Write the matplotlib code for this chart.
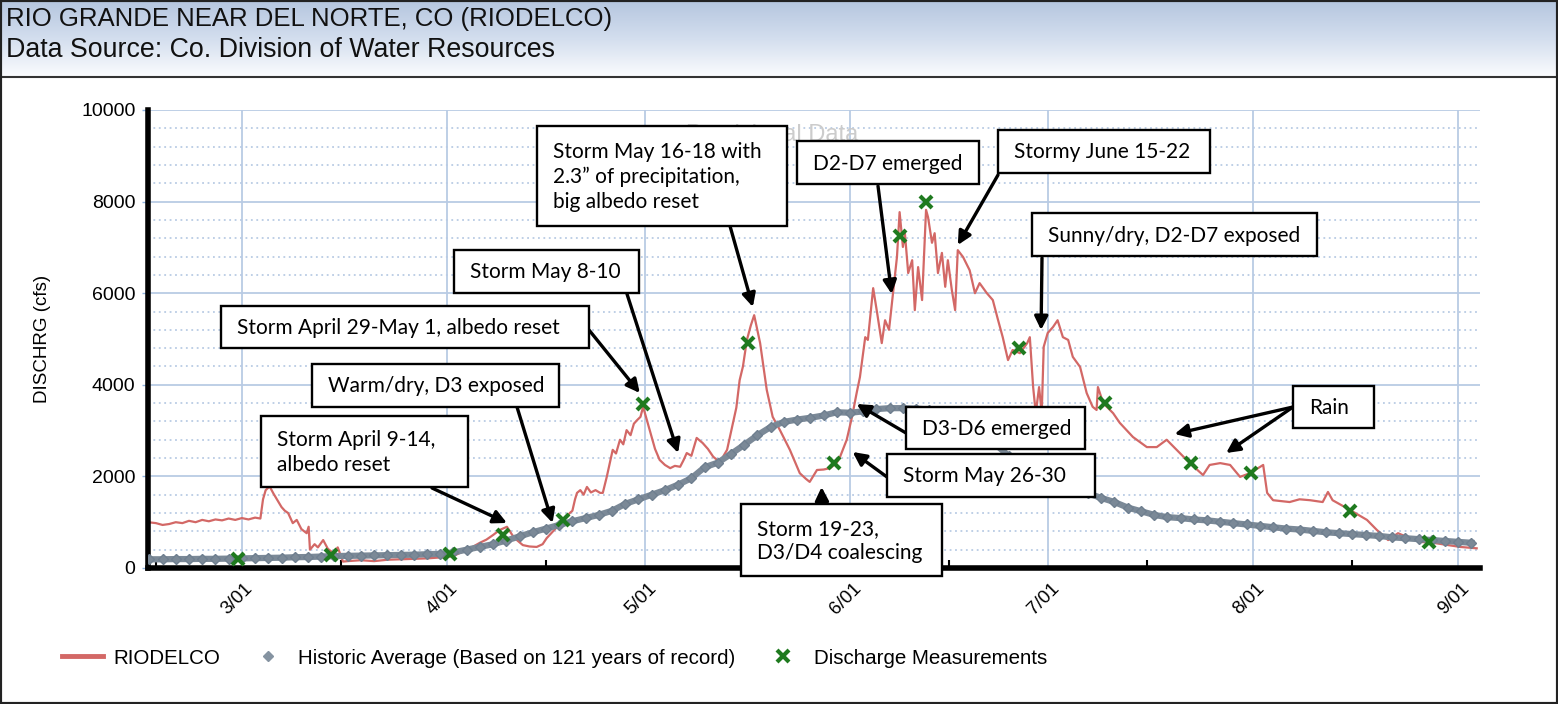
import numpy as np
import pandas as pd
import matplotlib
matplotlib.use('Agg')
import matplotlib.pyplot as plt
import matplotlib.dates as mdates
import matplotlib.transforms as mtransforms
from matplotlib.patches import Rectangle
from matplotlib.lines import Line2D
from matplotlib.colors import LinearSegmentedColormap
from matplotlib.ticker import MultipleLocator

plt.rcParams['font.family'] = ['Liberation Sans', 'DejaVu Sans']

# ---- data (days counted from March 1, 2019) ----
base = pd.Timestamp('2019-03-01')

# RIODELCO gauge
riodelco_day = [-14.2, -13, -12, -11, -10, -9, -8, -7, -6, -5, -4, -3, -2, -1, 0, 1, 2, 2.8,
                3.2, 3.6, 4.2, 4.8, 5.5, 6, 6.5, 7, 7.7, 8.3, 9, 9.8, 10.1, 10.3, 11, 11.5,
                12.3, 13, 13.8, 14.5, 15.3, 16, 18, 20, 22, 24, 26, 28, 30, 31, 32, 33,
                34.9, 36, 37, 38, 39, 40.1, 41, 41.6, 42.5, 43.5, 44.6, 45.5, 46.1, 47.7,
                48.5, 49.6, 50, 50.4, 50.7, 51.2, 51.7, 52.2, 52.8, 53.5, 54.2, 54.6, 55.2,
                56.1, 56.6, 57.2, 57.7, 58.2, 58.8, 59.3, 59.8, 60.3, 60.7, 61.7, 62.5,
                63.2, 64, 64.8, 65.5, 66.3, 66.8, 67.3, 68, 68.8, 69.7, 70.5, 71.3, 72.3,
                73.4, 74.3, 74.8, 75.3, 75.8, 76.4, 77, 77.5, 78.4, 79.4, 80.3, 81.4, 82.9,
                84.4, 85.3, 85.9, 87, 88, 89, 90, 90.5, 91.5, 92.3,
                93.0, 93.5, 94.3, 94.7, 95.5, 96.1, 96.8, 97.3, 97.9, 98.5, 99.1, 99.5,
                100.0, 100.3, 100.8, 101.4, 101.8, 102.3, 102.9, 103.5, 103.8, 104.4,
                104.8, 105.3, 105.9, 106.4, 106.8, 107.4, 107.9, 108.3, 109.1, 110.1,
                110.9, 111.6, 112.7, 113.6, 114.4, 115.1, 115.9, 116.6, 117.7, 118.8,
                119.2, 119.7, 120.1, 120.6, 121.0, 121.3, 121.9, 122.7, 123.4, 124.2,
                125.0, 125.7, 126.8, 127.8, 128.7,
                129.3, 129.5, 130.3, 131.8, 132.8, 134.8, 136.9, 138.4,
                139.9, 141.9, 143.4, 145.4, 146.4, 148, 149.5, 151, 152.5, 154.5, 155.1,
                156, 158.5, 160, 161.6, 163.5, 164.3, 165, 167.6, 170.2, 171.7, 173.4,
                174.9, 176.2, 178.2, 180.2, 184.3, 186.8]
riodelco_cfs = [1000, 980, 940, 960, 1000, 980, 1030, 1000, 1050, 1020, 1060, 1040, 1080, 1050,
                1090, 1060, 1100, 1080, 1500, 1700, 1780, 1620, 1450, 1330, 1250, 1200, 980,
                1050, 850, 760, 900, 400, 520, 450, 610, 420, 330, 450, 140, 150, 170, 150,
                180, 190, 200, 210, 230, 240, 260, 330, 460, 550, 620, 720, 830, 900, 700,
                610, 500, 470, 460, 520, 650, 900, 1000, 1200, 1250, 1500, 1640, 1700, 1600,
                1770, 1650, 1700, 1640, 1640, 1990, 2580, 2500, 2800, 2700, 3010, 2900, 3150,
                3230, 3300, 3520, 3010, 2600, 2360, 2250, 2180, 2230, 2210, 2350, 2510, 2450,
                2840, 2730, 2600, 2430, 2310, 2580, 3170, 3500, 4100, 4400, 4980, 5300, 5520,
                4910, 3890, 3300, 3010, 2580, 2070, 1950, 1880, 2140, 2150, 2180, 2300, 2430,
                2800, 3300,
                3820, 4170, 5040, 4980, 6110, 5570, 4910, 5410, 5200, 6000, 6790, 7770,
                7010, 7310, 6440, 6720, 5630, 6570, 5850, 7820, 7660, 7100,
                7310, 6440, 6880, 6140, 6720, 6070, 5630, 6940, 6790, 6500,
                6000, 6220, 6000, 5850, 5410, 5040, 4540, 4760, 4690, 4910,
                5040, 3950, 3380, 3950, 3380, 4830, 5130, 5260, 5410, 5040,
                4980, 4610, 4390, 3820, 3520,
                3450, 3950, 3600, 3380, 3170, 2860, 2640, 2640, 2800, 2510, 2290,
                2030, 2250, 2290, 2250, 1990, 2070, 2250, 1640, 1480, 1440, 1500, 1480, 1440,
                1660, 1480, 1270, 1050, 830, 610, 760, 680, 570, 550, 460, 430]

# Historic average (121 years of record)
hist_day = list(range(-14, 188, 2))
hist_cfs = [190, 190, 195, 195, 200, 200, 205, 210, 215, 220, 225, 235, 240, 250, 260, 265,
            270, 275, 280, 285, 290, 300, 310, 340, 400, 460, 520, 600, 690, 780, 860, 940,
            1020, 1090, 1160, 1250, 1400, 1500, 1600, 1700, 1820, 1960, 2200, 2300, 2490,
            2690, 2900, 3080, 3190, 3240, 3280, 3330, 3400, 3390, 3420, 3470, 3490, 3490,
            3480, 3460, 3420, 3350, 3200, 2980, 2700, 2450, 2250, 2080, 1950, 1830, 1730,
            1630, 1530, 1440, 1320, 1240, 1160, 1110, 1090, 1060, 1040, 1010, 980, 950, 920,
            890, 860, 840, 810, 780, 760, 740, 720, 700, 670, 650, 630, 610, 590, 570, 550]

# Discharge measurements
meas_day = [-0.6, 13.5, 31.5, 39.5, 48.6, 60.7, 76.6, 89.6, 99.5, 103.5, 117.5, 130.6,
            143.6, 152.6, 167.6, 179.6]
meas_cfs = [200, 280, 300, 720, 1050, 3580, 4910, 2290, 7250, 7990, 4800, 3600, 2290,
            2070, 1240, 570]

# callouts: text, box (left, top, right, bottom in px), arrows (tail px, tip day, tip cfs)
callouts = [
    ("Storm April 9-14,\nalbedo reset", (261, 416, 468, 487), [((432, 488), 40.1, 983)]),
    ("Warm/dry, D3 exposed", (312, 364, 559, 407), [((517, 407), 47.0, 983)]),
    ("Storm April 29-May 1, albedo reset", (221, 306, 589, 348), [((589, 330), 60.2, 3821)]),
    ("Storm May 8-10", (454, 250, 639, 293), [((627, 294), 66.0, 2511)]),
    ("Storm May 16-18 with\n2.3\u201d of precipitation,\nbig albedo reset", (537, 126, 787, 226),
     [((730, 226), 77.3, 5699)]),
    ("D2-D7 emerged", (797, 141, 979, 184), [((878, 186), 98.3, 5983)]),
    ("Stormy June 15-22", (998, 130, 1210, 173), [((998, 175), 108.3, 7052)]),
    ("Sunny/dry, D2-D7 exposed", (1032, 213, 1317, 256), [((1042, 258), 120.9, 5197)]),
    ("D3-D6 emerged", (906, 407, 1085, 449), [((906, 433), 93.0, 3581)]),
    ("Storm May 26-30", (887, 454, 1095, 497), [((887, 477), 92.4, 2533)]),
    ("Storm 19-23,\nD3/D4 coalescing", (741, 504, 942, 576), [((822, 504), 87.7, 1769)]),
    ("Rain", (1293, 386, 1374, 428), [((1293, 407), 141.1, 2926), ((1293, 407), 148.9, 2511)]),
]

W, H = 1558, 704


def fxy(x, y):
    # pixel (from top-left) -> figure fraction
    return x / W, 1 - y / H


def to_date(days):
    return base + pd.to_timedelta(np.asarray(days, dtype=float), unit='D')


fig = plt.figure(figsize=(W / 100, H / 100), dpi=100)
fig.patch.set_facecolor('white')

# header band with gradient
hax = fig.add_axes([0, 1 - 77 / H, 1, 77 / H])
grad = np.linspace(0, 1, 100).reshape(-1, 1)
cmap = LinearSegmentedColormap.from_list('hdr', ['#b5c6df', '#d3deee', '#fbfcfe'])
hax.imshow(grad, aspect='auto', cmap=cmap, extent=[0, 1, 0, 1])
hax.set_axis_off()
fig.text(*fxy(6, 19), 'RIO GRANDE NEAR DEL NORTE, CO (RIODELCO)', fontsize=18.5,
         va='center', ha='left', color='#111111')
fig.text(*fxy(6, 50), 'Data Source: Co. Division of Water Resources', fontsize=19.3,
         va='center', ha='left', color='#111111')
fig.add_artist(Line2D([0, 1], [1 - 77 / H] * 2, transform=fig.transFigure,
                      color='#333333', lw=1.5))

# main axes
ax = fig.add_axes([148 / W, 1 - 568 / H, (1480 - 148) / W, (568 - 110) / H])
ax.set_axisbelow(True)

ax.plot(to_date(riodelco_day), riodelco_cfs, color='#d36866', lw=1.6, zorder=2)
ax.plot(to_date(hist_day), hist_cfs, color='#7b8997', lw=4.5, marker='D', ms=5.5,
        mec='#6f7f8f', mfc='#7b8997', zorder=3)
ax.plot(to_date(meas_day), meas_cfs, ls='none', marker='x', ms=8, mew=3,
        color='#1f7a1f', zorder=4)

ax.set_xlim(to_date([-14.2])[0], to_date([187.3])[0])
ax.set_ylim(0, 10000)

ax.xaxis.set_major_locator(mdates.MonthLocator())
ax.xaxis.set_major_formatter(mdates.DateFormatter('%-m/%d'))
ax.xaxis.set_minor_locator(mdates.MonthLocator(bymonthday=16))
ax.yaxis.set_major_locator(MultipleLocator(2000))
ax.yaxis.set_minor_locator(MultipleLocator(400))

grid_c = '#b9cbe4'
ax.grid(which='major', color=grid_c, lw=1.3)
ax.grid(which='minor', axis='y', color=grid_c, lw=1.3, ls=(0, (1, 2)))

for s in ['top', 'right']:
    ax.spines[s].set_visible(False)
for s in ['left', 'bottom']:
    ax.spines[s].set_linewidth(4)
    ax.spines[s].set_color('black')

ax.tick_params(axis='x', which='major', length=0, pad=13, labelsize=13.5)
ax.tick_params(axis='x', which='minor', direction='in', length=6, width=1.5, color='black')
ax.tick_params(axis='y', which='major', length=4, width=1, color='#8fb3e0', pad=5, labelsize=14)
ax.tick_params(axis='y', which='minor', length=0)
shift = mtransforms.ScaledTranslation(6 / 72, 0, fig.dpi_scale_trans)
for lab in ax.get_xticklabels():
    lab.set_rotation(45)
    lab.set_ha('right')
    lab.set_va('center')
    lab.set_rotation_mode('anchor')
    lab.set_transform(lab.get_transform() + shift)

ax.set_ylabel('DISCHRG (cfs)', fontsize=13.5, labelpad=22)

# faint watermark mostly hidden behind callouts
fig.text(*fxy(858, 135), 'Provisional Data', fontsize=17, color='#cccccc', ha='right',
         va='center', zorder=2)

# callout boxes and arrows
for text, (x0, y0, x1, y1), arrows in callouts:
    fx0, fy1 = fxy(x0, y1)
    fig.add_artist(Rectangle((fx0, fy1), (x1 - x0) / W, (y1 - y0) / H,
                             transform=fig.transFigure, facecolor='white',
                             edgecolor='black', lw=1.7, zorder=5))
    fig.text(*fxy(x0 + 16, (y0 + y1) / 2 + 1), text, fontsize=15, family=['Lato', 'DejaVu Sans'],
             va='center', ha='left', linespacing=1.27, color='black', zorder=6)
    for tail, tday, tcfs in arrows:
        ax.annotate('', xy=(mdates.date2num(to_date([tday])[0]), tcfs), xycoords='data',
                    xytext=fxy(*tail), textcoords='figure fraction',
                    arrowprops=dict(arrowstyle='-|>', color='black', lw=2.4,
                                    mutation_scale=20, shrinkA=0, shrinkB=0))

# legend
handles = [Line2D([], [], color='#d36866', lw=3.5),
           Line2D([], [], ls='none', marker='D', ms=5, color='#8593a1'),
           Line2D([], [], ls='none', marker='x', ms=8, mew=3, color='#1f7a1f')]
labels = ['RIODELCO', 'Historic Average (Based on 121 years of record)',
          'Discharge Measurements']
fig.legend(handles, labels, loc='center left', bbox_to_anchor=fxy(62, 658), ncol=3,
           frameon=False, fontsize=14.8, handlelength=2.0, handletextpad=0.5,
           columnspacing=1.3, borderpad=0, borderaxespad=0)

# outer frame
fig.add_artist(Rectangle((0, 0), 1, 1, transform=fig.transFigure, fill=False,
                         edgecolor='#222222', lw=3, zorder=10))

fig.savefig('out.png', dpi=100)
